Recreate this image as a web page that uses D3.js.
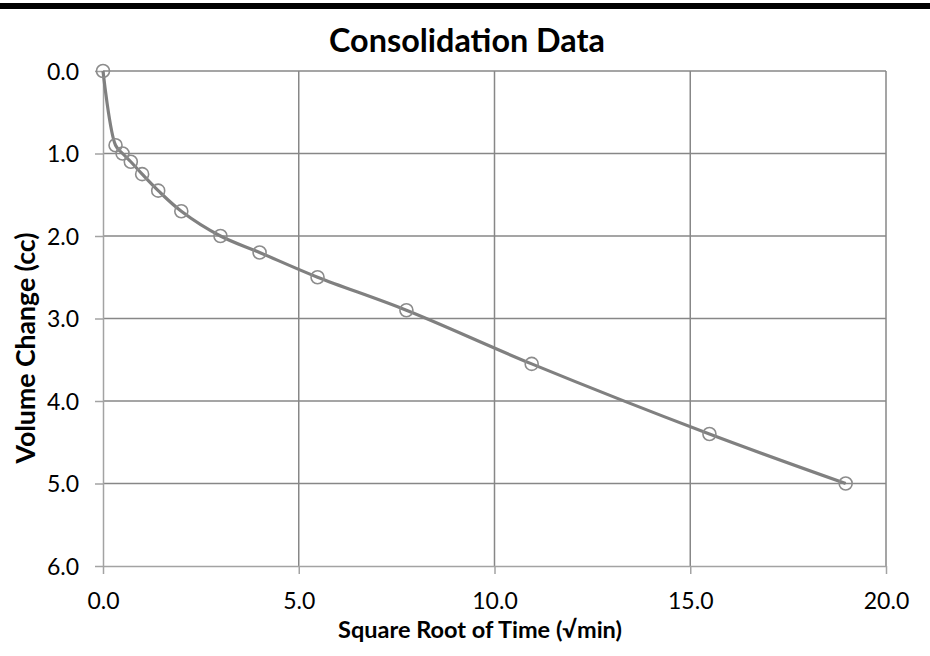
<!DOCTYPE html>
<html>
<head>
<meta charset="utf-8">
<script src="https://cdn.jsdelivr.net/npm/d3@7"></script>
<style>
  html, body { margin: 0; padding: 0; background: #fff; }
  svg { display: block; }
</style>
</head>
<body>
<svg id="chart" width="930" height="656"></svg>
<script>
// ---- data ----
const sqrtTime = [0, 0.32, 0.5, 0.71, 1.0, 1.41, 2.0, 3.0, 4.0, 5.48, 7.75, 10.95, 15.49, 18.97];
const volumeChange = [0, 0.9, 1.0, 1.1, 1.25, 1.45, 1.7, 2.0, 2.2, 2.5, 2.9, 3.55, 4.4, 5.0];
const xTicks = [0, 5, 10, 15, 20];
const yTicks = [0, 1, 2, 3, 4, 5, 6];
const chartTitle = "Consolidation Data";
const xTitle = "Square Root of Time (\u221Amin)";
const yTitle = "Volume Change (cc)";

const svg = d3.select("#chart");
const W = 930, H = 656;
const plot = { left: 103, right: 886, top: 71, bottom: 566 };

const x = d3.scaleLinear().domain([0, 20]).range([plot.left, plot.right]);
const y = d3.scaleLinear().domain([0, 6]).range([plot.top, plot.bottom]);

const FONT = "Lato, 'Open Sans', sans-serif";

// top black bar
svg.append("rect").attr("x", 0).attr("y", 3).attr("width", W).attr("height", 6).attr("fill", "#000");

function fitText(sel, targetWidth) {
  const base = 20;
  sel.attr("font-size", base);
  const w = sel.node().getComputedTextLength();
  sel.attr("font-size", base * targetWidth / w);
}

// gridlines
const grid = svg.append("g");
grid.selectAll("line.h").data(yTicks.slice(0, -1)).enter().append("line")
  .attr("x1", plot.left).attr("x2", plot.right)
  .attr("y1", d => y(d)).attr("y2", d => y(d))
  .attr("stroke", "#878787").attr("stroke-width", 1.5);
grid.selectAll("line.v").data(xTicks.slice(1)).enter().append("line")
  .attr("y1", plot.top).attr("y2", plot.bottom)
  .attr("x1", d => x(d)).attr("x2", d => x(d))
  .attr("stroke", "#878787").attr("stroke-width", 1.5);

// axes
const xAxis = d3.axisBottom(x).tickValues(xTicks).tickSize(8).tickSizeOuter(0).tickFormat(d3.format(".1f"));
const yAxis = d3.axisLeft(y).tickValues(yTicks).tickSize(8).tickSizeOuter(0).tickFormat(d3.format(".1f"));

const gx = svg.append("g").attr("transform", `translate(0,${plot.bottom})`).call(xAxis);
const gy = svg.append("g").attr("transform", `translate(${plot.left},0)`).call(yAxis);

[gx, gy].forEach(g => {
  g.select(".domain").attr("stroke", "#a3a3a3").attr("stroke-width", 1.5);
  g.selectAll(".tick line").attr("stroke", "#a3a3a3").attr("stroke-width", 1.5);
  g.selectAll(".tick text").attr("font-family", FONT).attr("font-size", 23).attr("fill", "#000");
});
gx.selectAll(".tick text").attr("dy", null).attr("y", 43);
gy.selectAll(".tick text").attr("x", -24).attr("dy", "0.36em");

// line
const pts = sqrtTime.map((v, i) => [v, volumeChange[i]]);
const line = d3.line().x(d => x(d[0])).y(d => y(d[1])).curve(d3.curveCatmullRom.alpha(0.5));
svg.append("path").datum(pts).attr("d", line)
  .attr("fill", "none").attr("stroke", "#808080").attr("stroke-width", 3.2).attr("stroke-linejoin", "round");

// markers
svg.append("g").selectAll("circle").data(pts).enter().append("circle")
  .attr("cx", d => x(d[0])).attr("cy", d => y(d[1])).attr("r", 6.5)
  .attr("fill", "none").attr("stroke", "#8c8c8c").attr("stroke-width", 1.6);

// titles
const t = svg.append("text").text(chartTitle)
  .attr("x", 467).attr("y", 52).attr("text-anchor", "middle")
  .attr("font-family", FONT).attr("font-weight", "bold").attr("fill", "#000");
fitText(t, 276);

const xt = svg.append("text").text(xTitle)
  .attr("x", 480).attr("y", 638).attr("text-anchor", "middle")
  .attr("font-family", FONT).attr("font-weight", "bold").attr("fill", "#000");
fitText(xt, 284);

const yt = svg.append("text").text(yTitle)
  .attr("transform", "translate(35,348) rotate(-90)").attr("text-anchor", "middle")
  .attr("font-family", FONT).attr("font-weight", "bold").attr("fill", "#000");
fitText(yt, 231);
</script>
</body>
</html>
